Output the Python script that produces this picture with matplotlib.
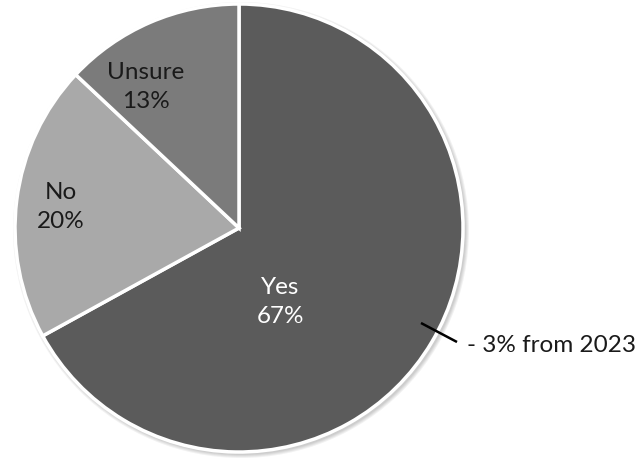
import matplotlib
matplotlib.use("Agg")
import matplotlib.pyplot as plt
from matplotlib.patches import Circle

categories = ["Yes", "No", "Unsure"]
values = [67, 20, 13]
colors = ["#5b5b5b", "#a9a9a9", "#7b7b7b"]
text_colors = ["white", "#1a1a1a", "#1a1a1a"]
label_pos = [(280, 302), (61, 207), (146, 87)]  # pixel positions from top-left
note = "- 3% from 2023"

W, H = 636, 459
fig = plt.figure(figsize=(W / 100, H / 100), dpi=100)
ax = fig.add_axes([0, 0, 1, 1])


def fy(y):
    return H - y


cx, cy, r = 239, fy(228), 224
# subtle shadow
for i in range(4):
    ax.add_patch(Circle((cx + 2, cy - 2), r + 1 + i, color="#000000", alpha=0.05, lw=0, zorder=0))

ax.pie(values, colors=colors, startangle=90, counterclock=False,
       center=(cx, cy), radius=r, frame=True,
       wedgeprops=dict(edgecolor="white", linewidth=2.5))
ax.set_xlim(0, W)
ax.set_ylim(0, H)
ax.set_aspect("equal")
ax.axis("off")

for cat, v, tc, (x, y) in zip(categories, values, text_colors, label_pos):
    ax.text(x, fy(y), f"{cat}\n{v}%", ha="center", va="center", color=tc,
            fontsize=17.5, family="Lato", linespacing=1.5, zorder=5)

ax.plot([421, 457], [fy(323), fy(342)], color="black", lw=1.8, zorder=6, solid_capstyle="butt")
ax.text(467, fy(346), note, ha="left", va="center", fontsize=17.5, family="Lato", color="#1a1a1a")

fig.savefig("out.png", dpi=100)
